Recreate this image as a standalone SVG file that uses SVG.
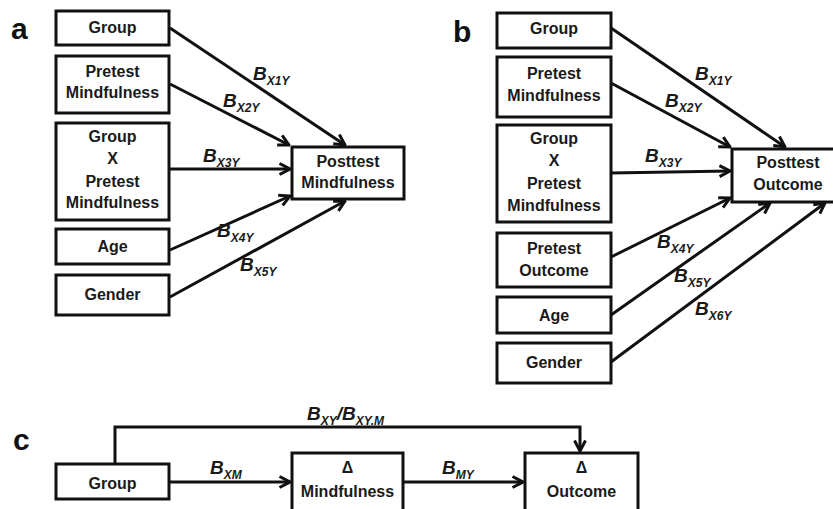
<svg xmlns="http://www.w3.org/2000/svg" width="833" height="509" viewBox="0 0 833 509">
<defs>
<style>
.box{fill:#fff;stroke:#111;stroke-width:3}
.t{font-family:"Liberation Sans",Arial,sans-serif;font-weight:bold;font-size:16px;fill:#1a1a1a;text-anchor:middle}
.lbl{font-family:"Liberation Sans",Arial,sans-serif;font-weight:bold;font-size:30px;fill:#111}
.c{font-family:"Liberation Sans",Arial,sans-serif;font-weight:bold;font-style:italic;font-size:19px;fill:#1a1a1a}
.s{font-size:12px}
.e{fill:none;stroke:#111;stroke-width:3;marker-end:url(#ah)}
.ln{fill:none;stroke:#111;stroke-width:3}
</style>
<marker id="ah" viewBox="0 0 14 14" refX="12.5" refY="7" markerWidth="14" markerHeight="14" markerUnits="userSpaceOnUse" orient="auto">
<path d="M2,1.5 L12.5,7 L2,12.5" fill="none" stroke="#111" stroke-width="3" stroke-linejoin="miter"/>
</marker>
</defs>
<rect width="833" height="509" fill="#fff"/>

<text class="lbl" x="11" y="39">a</text>
<text class="lbl" x="453" y="42">b</text>
<text class="lbl" x="13" y="450">c</text>

<g id="connectors">
<!-- panel a -->
<line class="e" x1="170" y1="28" x2="345" y2="145"/>
<line class="e" x1="170" y1="84" x2="289" y2="145"/>
<line class="e" x1="170" y1="169" x2="290" y2="169"/>
<line class="e" x1="170" y1="250" x2="290" y2="196"/>
<line class="e" x1="170" y1="297" x2="345" y2="201"/>
<!-- panel b -->
<line class="e" x1="611" y1="28" x2="785" y2="147"/>
<line class="e" x1="611" y1="83" x2="730" y2="147"/>
<line class="e" x1="611" y1="173" x2="730" y2="171"/>
<line class="e" x1="611" y1="257" x2="730" y2="198"/>
<line class="e" x1="611" y1="315" x2="770" y2="203"/>
<line class="e" x1="611" y1="362" x2="825" y2="203"/>
<!-- panel c -->
<line class="e" x1="169" y1="482" x2="290" y2="482"/>
<line class="e" x1="403" y1="482" x2="523" y2="482"/>
<polyline class="e" points="115,464 115,427 580,427 580,451"/>

<text class="c" x="253" y="80">B<tspan class="s" dy="5">X1Y</tspan></text>
<text class="c" x="223" y="107">B<tspan class="s" dy="5">X2Y</tspan></text>
<text class="c" x="203" y="162">B<tspan class="s" dy="5">X3Y</tspan></text>
<text class="c" x="217" y="237">B<tspan class="s" dy="5">X4Y</tspan></text>
<text class="c" x="240" y="271">B<tspan class="s" dy="5">X5Y</tspan></text>

<text class="c" x="695" y="80">B<tspan class="s" dy="5">X1Y</tspan></text>
<text class="c" x="665" y="107">B<tspan class="s" dy="5">X2Y</tspan></text>
<text class="c" x="645" y="162">B<tspan class="s" dy="5">X3Y</tspan></text>
<text class="c" x="657" y="248">B<tspan class="s" dy="5">X4Y</tspan></text>
<text class="c" x="674" y="282">B<tspan class="s" dy="5">X5Y</tspan></text>
<text class="c" x="695" y="315">B<tspan class="s" dy="5">X6Y</tspan></text>

<text class="c" x="307" y="420">B<tspan class="s" dy="5">XY</tspan><tspan dy="-5">/B</tspan><tspan class="s" dy="5">XY.M</tspan></text>
<text class="c" x="210" y="474">B<tspan class="s" dy="5">XM</tspan></text>
<text class="c" x="442" y="474">B<tspan class="s" dy="5">MY</tspan></text>
</g>

<!-- panel a nodes -->
<g id="a-group"><rect class="box" x="56" y="11" width="113" height="34"/><text class="t" x="112.5" y="33">Group</text></g>
<g id="a-pretest"><rect class="box" x="56" y="56" width="113" height="57"/><text class="t" x="112.5" y="77">Pretest</text><text class="t" x="112.5" y="98">Mindfulness</text></g>
<g id="a-interaction"><rect class="box" x="56" y="123" width="113" height="97"/><text class="t" x="112.5" y="142">Group</text><text class="t" x="112.5" y="164">X</text><text class="t" x="112.5" y="187">Pretest</text><text class="t" x="112.5" y="208">Mindfulness</text></g>
<g id="a-age"><rect class="box" x="56" y="229" width="113" height="35"/><text class="t" x="112.5" y="252">Age</text></g>
<g id="a-gender"><rect class="box" x="56" y="275" width="113" height="40"/><text class="t" x="112.5" y="300">Gender</text></g>
<g id="a-posttest"><rect class="box" x="292" y="147" width="112" height="52"/><text class="t" x="348" y="167">Posttest</text><text class="t" x="348" y="188">Mindfulness</text></g>

<!-- panel b nodes -->
<g id="b-group"><rect class="box" x="497" y="13" width="114" height="35"/><text class="t" x="554" y="34">Group</text></g>
<g id="b-pretest-m"><rect class="box" x="497" y="57" width="114" height="60"/><text class="t" x="554" y="79">Pretest</text><text class="t" x="554" y="101">Mindfulness</text></g>
<g id="b-interaction"><rect class="box" x="497" y="125" width="114" height="97"/><text class="t" x="554" y="144">Group</text><text class="t" x="554" y="166">X</text><text class="t" x="554" y="189">Pretest</text><text class="t" x="554" y="211">Mindfulness</text></g>
<g id="b-pretest-o"><rect class="box" x="497" y="233" width="114" height="54"/><text class="t" x="554" y="254">Pretest</text><text class="t" x="554" y="276">Outcome</text></g>
<g id="b-age"><rect class="box" x="497" y="297" width="114" height="36"/><text class="t" x="554" y="321">Age</text></g>
<g id="b-gender"><rect class="box" x="497" y="343" width="114" height="40"/><text class="t" x="554" y="368">Gender</text></g>
<g id="b-posttest"><rect class="box" x="732" y="149" width="112" height="53"/><text class="t" x="788" y="168">Posttest</text><text class="t" x="788" y="190">Outcome</text></g>

<!-- panel c nodes -->
<g id="c-group"><rect class="box" x="56" y="464" width="113" height="35"/><text class="t" x="112.5" y="489">Group</text></g>
<g id="c-mind"><rect class="box" x="292" y="453" width="111" height="62"/><text class="t" x="347.5" y="473">Δ</text><text class="t" x="347.5" y="497">Mindfulness</text></g>
<g id="c-outcome"><rect class="box" x="525" y="453" width="113" height="62"/><text class="t" x="581.5" y="473">Δ</text><text class="t" x="581.5" y="497">Outcome</text></g>
</svg>
